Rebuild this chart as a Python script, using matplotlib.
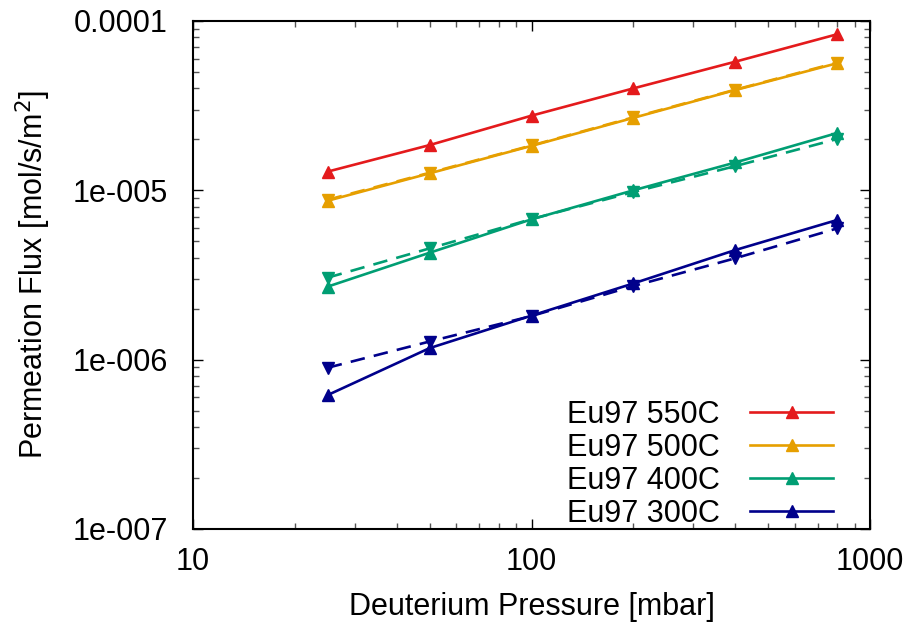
import matplotlib
matplotlib.use("Agg")
import matplotlib.pyplot as plt
from matplotlib.lines import Line2D

plt.rcParams['font.family'] = ['Liberation Sans', 'DejaVu Sans']

pressure = [25, 50, 100, 200, 400, 800]

# solid series (up triangles)
flux_550 = [1.29e-5, 1.85e-5, 2.76e-5, 4.00e-5, 5.75e-5, 8.35e-5]
flux_500 = [8.68e-6, 1.26e-5, 1.83e-5, 2.68e-5, 3.91e-5, 5.63e-5]
flux_400 = [2.70e-6, 4.28e-6, 6.74e-6, 1.00e-5, 1.46e-5, 2.18e-5]
flux_300 = [6.18e-7, 1.17e-6, 1.82e-6, 2.82e-6, 4.44e-6, 6.68e-6]

# dashed series (down triangles)
flux_500_b = [8.80e-6, 1.27e-5, 1.84e-5, 2.70e-5, 3.93e-5, 5.68e-5]
flux_400_b = [3.05e-6, 4.54e-6, 6.76e-6, 9.77e-6, 1.39e-5, 2.01e-5]
flux_300_b = [8.96e-7, 1.28e-6, 1.81e-6, 2.72e-6, 3.97e-6, 5.96e-6]

labels = ['Eu97 550C', 'Eu97 500C', 'Eu97 400C', 'Eu97 300C']
colors = ['#e41a1c', '#e69f00', '#009e73', '#00008b']

fs = 22

fig = plt.figure(figsize=(9.07, 6.23), dpi=100)
ax = fig.add_axes([0.2128, 0.1509, 0.7464, 0.8154])

solid = [flux_550, flux_500, flux_400, flux_300]
dashed = [None, flux_500_b, flux_400_b, flux_300_b]

for ys, c in zip(solid, colors):
    ax.plot(pressure, ys, '-', color=c, lw=1.9, marker='^', ms=9, mec=c, mfc=c)
for ys, c in zip(dashed, colors):
    if ys is None:
        continue
    ax.plot(pressure, ys, '--', color=c, lw=1.9, marker='v', ms=9, mec=c, mfc=c,
            dashes=(5.5, 3.5))

ax.set_xscale('log')
ax.set_yscale('log')
ax.set_xlim(10, 1000)
ax.set_ylim(1e-7, 1e-4)

ax.set_xticks([10, 100, 1000])
ax.set_xticklabels(['10', '100', '1000'])
ax.set_yticks([1e-7, 1e-6, 1e-5, 1e-4])
ax.set_yticklabels(['1e-007', '1e-006', '1e-005', '0.0001'])

ax.tick_params(which='both', direction='in', top=True, right=True, width=1.0)
ax.tick_params(which='major', length=7)
ax.tick_params(which='minor', length=4, color='#555555')
ax.tick_params(axis='x', which='major', labelsize=fs, pad=13)
ax.tick_params(axis='y', which='major', labelsize=fs, pad=18)
for s in ax.spines.values():
    s.set_linewidth(1.5)

ax.set_xlabel('Deuterium Pressure [mbar]', fontsize=fs, labelpad=11)
ax.set_ylabel('Permeation Flux [mol/s/m$^2$]', fontsize=fs, labelpad=14)

handles = [Line2D([], [], color=c, lw=1.9, marker='^', ms=8) for c in colors]
ax.legend(handles, labels, loc='lower right', bbox_to_anchor=(0.945, 0.0),
          frameon=False, fontsize=fs, markerfirst=False, handlelength=2.7,
          handletextpad=1.0, labelspacing=0.1, borderpad=0, borderaxespad=0)

fig.savefig('out.png', dpi=100)
